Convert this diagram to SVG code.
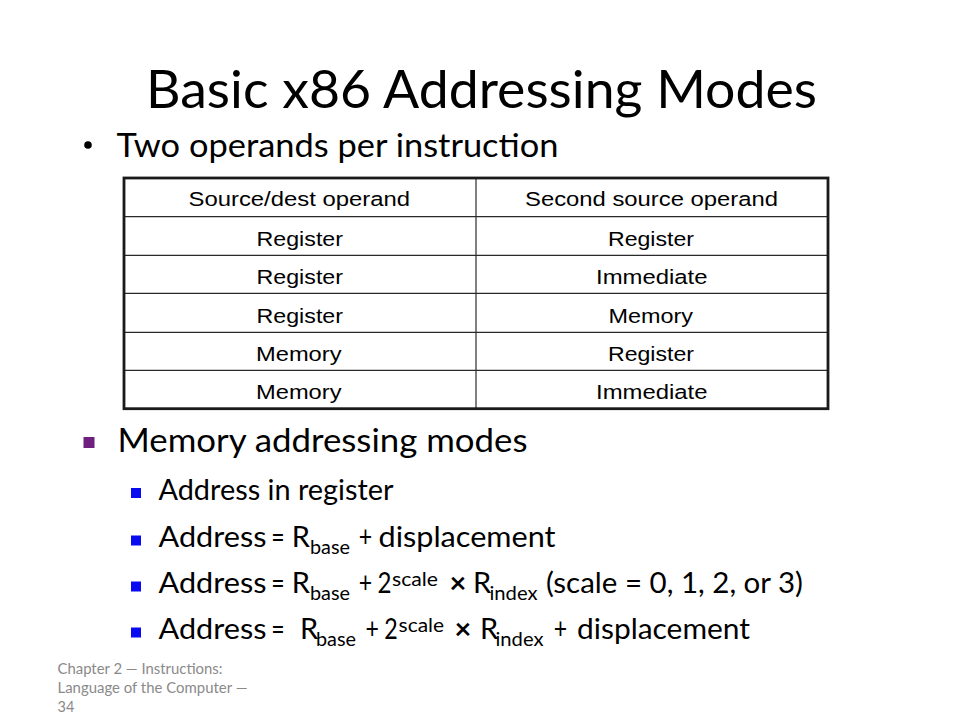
<svg xmlns="http://www.w3.org/2000/svg" width="960" height="720" viewBox="0 0 960 720">
<style>
.c{font-family:Lato,"Open Sans","Liberation Sans",sans-serif;fill:#000}
.t{font-size:52px}
.l1{font-size:33.5px}
.l2{font-size:29px}
.s{font-size:19.5px}
.x{font-weight:700}
.tb{font-family:"Liberation Sans",Arial,sans-serif;font-size:20.5px;fill:#000}
.ft{font-family:Lato,"Open Sans","Liberation Sans",sans-serif;font-size:14.5px;fill:#8a8a8a}
.grid{stroke:#2a2a2a;stroke-width:1.2;fill:none}
.blue{fill:#0a0af0}
</style>
<rect width="960" height="720" fill="#fff"/>
<g id="title">
<text class="c t" x="146" y="108" textLength="671" lengthAdjust="spacingAndGlyphs">Basic x86 Addressing Modes</text>
</g>
<g id="bullet-two-operands">
<circle cx="88" cy="145" r="3.8" fill="#000"/>
<text class="c l1" x="116.5" y="157" textLength="442" lengthAdjust="spacingAndGlyphs">Two operands per instruction</text>
</g>
<g id="table">
<line class="grid" x1="476" y1="178" x2="476" y2="408.5"/>
<line class="grid" x1="124" y1="216.7" x2="828" y2="216.7"/>
<line class="grid" x1="124" y1="255.3" x2="828" y2="255.3"/>
<line class="grid" x1="124" y1="293.3" x2="828" y2="293.3"/>
<line class="grid" x1="124" y1="332.3" x2="828" y2="332.3"/>
<line class="grid" x1="124" y1="370.3" x2="828" y2="370.3"/>
<rect x="124" y="178" width="704" height="230.7" fill="none" stroke="#1a1a1a" stroke-width="2.8"/>
<text class="tb" x="188.5" y="205.7" textLength="221.5" lengthAdjust="spacingAndGlyphs">Source/dest operand</text>
<text class="tb" x="525" y="205.7" textLength="253" lengthAdjust="spacingAndGlyphs">Second source operand</text>
<text class="tb" x="256.5" y="246" textLength="86.5" lengthAdjust="spacingAndGlyphs">Register</text>
<text class="tb" x="608" y="246" textLength="86" lengthAdjust="spacingAndGlyphs">Register</text>
<text class="tb" x="256.5" y="284.3" textLength="86.5" lengthAdjust="spacingAndGlyphs">Register</text>
<text class="tb" x="596" y="284.3" textLength="111.5" lengthAdjust="spacingAndGlyphs">Immediate</text>
<text class="tb" x="256.5" y="322.7" textLength="86.5" lengthAdjust="spacingAndGlyphs">Register</text>
<text class="tb" x="608.5" y="322.7" textLength="84.5" lengthAdjust="spacingAndGlyphs">Memory</text>
<text class="tb" x="256" y="361" textLength="85.5" lengthAdjust="spacingAndGlyphs">Memory</text>
<text class="tb" x="608" y="361" textLength="86" lengthAdjust="spacingAndGlyphs">Register</text>
<text class="tb" x="256" y="399.3" textLength="85.5" lengthAdjust="spacingAndGlyphs">Memory</text>
<text class="tb" x="596" y="399.3" textLength="111.5" lengthAdjust="spacingAndGlyphs">Immediate</text>
</g>
<g id="bullet-memory-modes">
<rect x="83.5" y="437" width="11" height="11" fill="#6f1f80"/>
<text class="c l1" x="117.5" y="452" textLength="410" lengthAdjust="spacingAndGlyphs">Memory addressing modes</text>
</g>
<g id="sub-address-in-register">
<rect class="blue" x="131" y="488" width="10" height="10"/>
<text class="c l2" x="158.5" y="500" textLength="235" lengthAdjust="spacingAndGlyphs">Address in register</text>
</g>
<g id="sub-base-displacement">
<rect class="blue" x="131" y="535.5" width="10" height="10"/>
<text class="c l2" x="158.5" y="547" textLength="108" lengthAdjust="spacingAndGlyphs">Address</text>
<text class="c l2" x="271.3" y="547" textLength="13.4" lengthAdjust="spacingAndGlyphs">=</text>
<text class="c l2" x="291.7" y="547">R</text>
<text class="c s" x="310" y="554" textLength="40" lengthAdjust="spacingAndGlyphs">base</text>
<text class="c l2" x="358.8" y="547" textLength="13.4" lengthAdjust="spacingAndGlyphs">+</text>
<text class="c l2" x="378.5" y="547" textLength="177" lengthAdjust="spacingAndGlyphs">displacement</text>
</g>
<g id="sub-base-scale-index">
<rect class="blue" x="131" y="581.5" width="10" height="10"/>
<text class="c l2" x="158.5" y="592.5" textLength="108" lengthAdjust="spacingAndGlyphs">Address</text>
<text class="c l2" x="271.3" y="592.5" textLength="13.4" lengthAdjust="spacingAndGlyphs">=</text>
<text class="c l2" x="291.7" y="592.5">R</text>
<text class="c s" x="310" y="599.5" textLength="40" lengthAdjust="spacingAndGlyphs">base</text>
<text class="c l2" x="358.8" y="592.5" textLength="13.4" lengthAdjust="spacingAndGlyphs">+</text>
<text class="c l2" x="377.5" y="592.5" textLength="14" lengthAdjust="spacingAndGlyphs">2</text>
<text class="c s" x="392" y="585.5" textLength="46" lengthAdjust="spacingAndGlyphs">scale</text>
<text class="c l2 x" x="449.5" y="592.5">×</text>
<text class="c l2" x="473" y="592.5">R</text>
<text class="c s" x="489.5" y="599.5" textLength="48" lengthAdjust="spacingAndGlyphs">index</text>
<text class="c l2" x="546" y="592.5" textLength="257" lengthAdjust="spacingAndGlyphs">(scale = 0, 1, 2, or 3)</text>
</g>
<g id="sub-base-scale-index-displacement">
<rect class="blue" x="131" y="627.5" width="10" height="10"/>
<text class="c l2" x="158.5" y="639" textLength="108" lengthAdjust="spacingAndGlyphs">Address</text>
<text class="c l2" x="271.3" y="639" textLength="13.4" lengthAdjust="spacingAndGlyphs">=</text>
<text class="c l2" x="300" y="639">R</text>
<text class="c s" x="316" y="646" textLength="40" lengthAdjust="spacingAndGlyphs">base</text>
<text class="c l2" x="365.5" y="639" textLength="13.4" lengthAdjust="spacingAndGlyphs">+</text>
<text class="c l2" x="384.3" y="639" textLength="13.5" lengthAdjust="spacingAndGlyphs">2</text>
<text class="c s" x="398.6" y="632" textLength="45.5" lengthAdjust="spacingAndGlyphs">scale</text>
<text class="c l2 x" x="454.5" y="639">×</text>
<text class="c l2" x="480" y="639">R</text>
<text class="c s" x="495.5" y="646" textLength="48" lengthAdjust="spacingAndGlyphs">index</text>
<text class="c l2" x="553.8" y="639" textLength="13.4" lengthAdjust="spacingAndGlyphs">+</text>
<text class="c l2" x="577" y="639" textLength="173" lengthAdjust="spacingAndGlyphs">displacement</text>
</g>
<g id="footer">
<text class="ft" x="57.5" y="674" textLength="165" lengthAdjust="spacingAndGlyphs">Chapter 2 — Instructions:</text>
<text class="ft" x="57.5" y="693" textLength="190" lengthAdjust="spacingAndGlyphs">Language of the Computer —</text>
<text class="ft" x="57.5" y="712">34</text>
</g>
</svg>
